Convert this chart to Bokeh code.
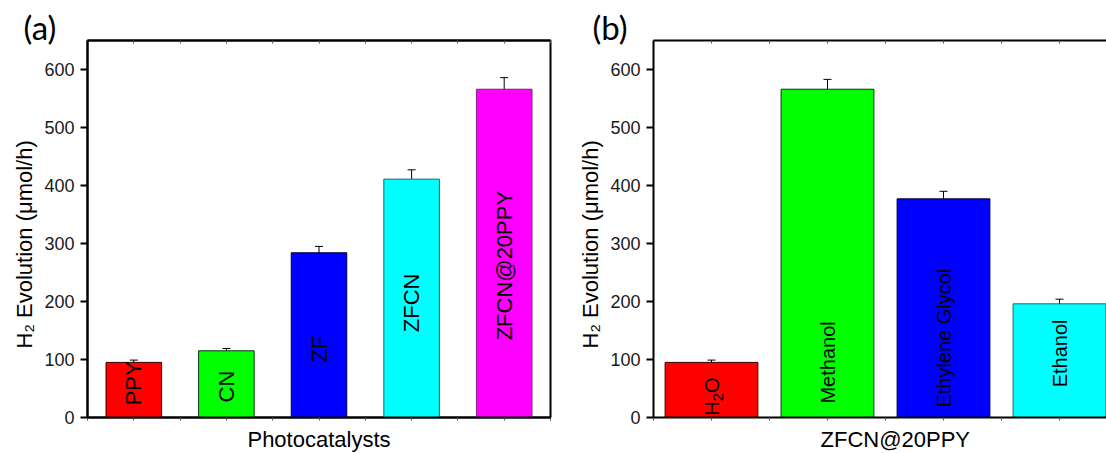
import math
from bokeh.plotting import figure
from bokeh.models import (ColumnDataSource, Range1d, LinearAxis, FixedTicker,
                          Whisker, TeeHead, Title)
from bokeh.layouts import row
from bokeh.embed import file_html
from bokeh.resources import INLINE
from bokeh.core.properties import value

# ---- data -------------------------------------------------------------
# (a) H2 evolution rate of the photocatalysts
catalysts = ["PPY", "CN", "ZF", "ZFCN", "ZFCN@20PPY"]
rate_a = [95, 115, 284, 411, 566]
err_a = [4, 4, 11, 16, 20]

# (b) ZFCN@20PPY with different sacrificial agents
agents = ["H2O", "Methanol", "Ethylene Glycol", "Ethanol"]
rate_b = [95, 566, 377, 196]
err_b = [4, 17, 13, 8]

y_ticks = [0, 100, 200, 300, 400, 500, 600]

# where each in-bar label starts (value units along the bar)
label_start_a = [21, 26, 95, 147, 133]
label_start_b = [3, 24, 17, 52]

# ---- styles -----------------------------------------------------------
fill_a = ["#ff0000", "#00ff00", "#0000ff", "#00ffff", "#ff00ff"]
edge_a = ["#3a0000", "#103010", "#000030", "#1f6a6a", "#7a207a"]
fill_b = ["#ff0000", "#00ff00", "#0000ff", "#00ffff"]
edge_b = ["#3a0000", "#103010", "#000030", "#1f6a6a"]

FONT = "Liberation Sans"
LETTER_FONT = "Lato"
INK = "#1a1a1a"
Y_TITLE = "H\u2082 Evolution (\u03bcmol/h)"

# ---- layout -----------------------------------------------------------
FIG_H = 453
TOP, BOTTOM = 40, 36
FRAME_H = FIG_H - TOP - BOTTOM          # 377
Y_MAX = 650
PX_PER_Y = FRAME_H / Y_MAX

A_W, A_LEFT, A_RIGHT = 570, 87, 20
B_W, B_LEFT, B_RIGHT = 536, 83, 0
B_FRAME_W = B_W - B_LEFT - B_RIGHT      # 453
B_UNIT = 116                             # px per category slot in (b)

# Arial / Liberation Sans advance widths (em) for glyphs preceding a subscript
ADV = {"H": 0.722, "2": 0.556, "O": 0.778}


def make_fig(width, left, right, x_end):
    p = figure(width=width, height=FIG_H,
               x_range=Range1d(0, x_end), y_range=Range1d(0, Y_MAX),
               x_axis_location=None, y_axis_location=None,
               min_border_left=left, min_border_right=right,
               min_border_top=TOP, min_border_bottom=BOTTOM,
               output_backend="svg", toolbar_location=None)
    p.grid.visible = False
    p.background_fill_color = "white"
    p.border_fill_color = "white"
    return p


def add_axes(p, n_cat, x_end, x_title, x_align, x_offset, letter, letter_offset):
    ya = LinearAxis(ticker=FixedTicker(ticks=y_ticks))
    ya.axis_line_width = 2
    ya.axis_line_color = "black"
    ya.major_tick_line_width = 2
    ya.major_tick_out = 7
    ya.major_tick_in = 0
    ya.minor_tick_out = 0
    ya.minor_tick_in = 0
    ya.major_label_standoff = 6
    ya.major_label_text_font = FONT
    ya.major_label_text_font_size = "18px"
    ya.major_label_text_color = INK
    p.add_layout(ya, "left")
    # vertical axis title, starting 69 px above the frame bottom
    p.add_layout(Title(text=Y_TITLE, align="left", offset=69, standoff=10,
                       text_font=FONT, text_font_size="22px",
                       text_font_style="normal", text_color="black"), "left")

    # category centres and slot boundaries carry small marks on both x edges
    half_ticks = [k / 2 for k in range(0, 2 * n_cat + 1) if k / 2 <= x_end]
    for loc in ("below", "above"):
        xa = LinearAxis(ticker=FixedTicker(ticks=half_ticks, minor_ticks=half_ticks))
        xa.axis_line_width = 2
        xa.axis_line_color = "black"
        xa.major_tick_line_color = None
        xa.major_tick_in = 0
        # invisible major ticks only reserve room between the axis and its title
        xa.major_tick_out = 7 if loc == "below" else 0
        xa.minor_tick_line_color = "#555555"
        xa.minor_tick_line_width = 1
        xa.minor_tick_out = 3 if loc == "below" else 0
        xa.minor_tick_in = 0 if loc == "below" else 3
        xa.major_label_overrides = {t: "" for t in half_ticks}
        xa.major_label_text_font_size = "0px"
        xa.major_label_standoff = 0
        p.add_layout(xa, loc)

    p.add_layout(Title(text=x_title, align=x_align, offset=x_offset,
                       standoff=1, text_font=FONT, text_font_size="22px",
                       text_font_style="normal", text_color="black"), "below")
    p.title = Title(text=letter, align="left", offset=letter_offset,
                    text_font=LETTER_FONT, text_font_size="33px",
                    text_font_style="normal", text_color="black", standoff=-12)


def draw_bars(p, names, rates, errs, fills, edges, width):
    xs = [i + 0.5 for i in range(len(names))]
    src = ColumnDataSource(dict(x=xs, top=rates, fill=fills, edge=edges,
                                upper=[r + e for r, e in zip(rates, errs)],
                                lower=[r - e for r, e in zip(rates, errs)]))
    p.vbar(x="x", top="top", bottom=0, width=width, source=src,
           fill_color="fill", line_color="edge", line_width=1)
    p.add_layout(Whisker(source=src, base="x", upper="upper", lower="lower",
                         line_color="black", line_width=1,
                         upper_head=TeeHead(size=8, line_color="black", line_width=1),
                         lower_head=TeeHead(size=8, line_color="black", line_width=1)))
    return xs


def formula_label(p, x, y, text, size, sub_size, sub_shift_px, px_per_x):
    """Bar label rotated 90 deg; digits typeset as subscripts (chemical formulas)."""
    segs = []
    for ch in text:
        is_sub = ch.isdigit()
        if segs and segs[-1][1] == is_sub:
            segs[-1][0] += ch
        else:
            segs.append([ch, is_sub])
    pos_px = 0.0
    for i, (s, is_sub) in enumerate(segs):
        fs = sub_size if is_sub else size
        xx = x + (sub_shift_px / px_per_x if is_sub else 0)
        yy = y + pos_px / PX_PER_Y
        p.text(x=[xx], y=[yy], text=[s], angle=math.pi / 2,
               text_font=value(FONT), text_font_size=f"{fs}px",
               text_color="black", text_align="left", text_baseline="middle")
        if i < len(segs) - 1:
            pos_px += sum(ADV.get(c, 0.556) for c in s) * fs


# ---- panel (a) --------------------------------------------------------
n_a = len(catalysts)
pa = make_fig(A_W, A_LEFT, A_RIGHT, n_a)
pa.outline_line_color = "black"
pa.outline_line_width = 2
add_axes(pa, n_a, n_a, "Photocatalysts", "center", 0, "(a)", -64)
xs_a = draw_bars(pa, catalysts, rate_a, err_a, fill_a, edge_a, 0.6)
pa.text(x=xs_a, y=label_start_a, text=catalysts, angle=math.pi / 2,
        text_font=value(FONT), text_font_size="22px", text_color="black",
        text_align="left", text_baseline="middle")

# ---- panel (b) --------------------------------------------------------
n_b = len(agents)
x_end_b = B_FRAME_W / B_UNIT
pb = make_fig(B_W, B_LEFT, B_RIGHT, x_end_b)
pb.outline_line_color = None
add_axes(pb, n_b, x_end_b, "ZFCN@20PPY", "left", 167, "(b)", -61)
xs_b = draw_bars(pb, agents, rate_b, err_b, fill_b, edge_b, 0.8)
for xb, yb, name in zip(xs_b, label_start_b, agents):
    formula_label(pb, xb, yb, name, 20, 15, 6.5, B_UNIT)

layout = row(pa, pb, spacing=0)
open("out.html", "w").write(file_html(layout, INLINE))
